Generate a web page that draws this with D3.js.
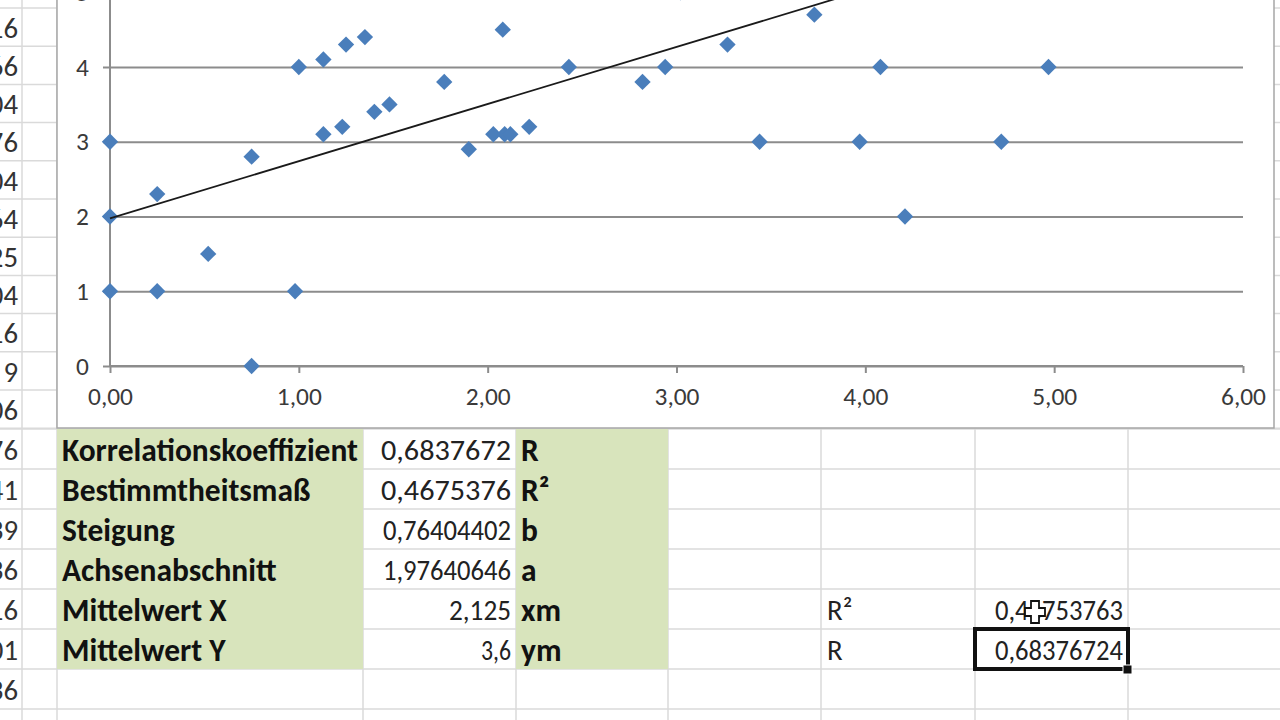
<!DOCTYPE html>
<html><head><meta charset="utf-8">
<script src="https://cdn.jsdelivr.net/npm/d3@7"></script>
<style>html,body{margin:0;padding:0;background:#fff;overflow:hidden}</style>
</head><body><svg id="c" width="1280" height="720"></svg>
<script>
// ---- data ----
const xValues = [0, 0, 0, 0.25, 0.25, 0.52, 0.75, 0.75, 0.98, 1.0, 1.13, 1.13, 1.23, 1.25, 1.35, 1.40, 1.48, 1.77, 1.90, 2.08, 2.03, 2.09, 2.12, 2.22, 2.43, 2.82, 2.94, 3.02, 3.27, 3.44, 3.73, 3.97, 4.08, 4.21, 4.72, 4.97];
const yValues = [3, 2, 1, 2.3, 1, 1.5, 2.8, 0, 1, 4, 4.1, 3.1, 3.2, 4.3, 4.4, 3.4, 3.5, 3.8, 2.9, 4.5, 3.1, 3.1, 3.1, 3.2, 4, 3.8, 4, 5.0, 4.3, 3, 4.7, 3, 4, 2, 3, 4];
const trendSlope = 0.76404402;
const trendIntercept = 1.97640646;
const xTicks = [0, 1, 2, 3, 4, 5, 6];
const yTicks = [0, 1, 2, 3, 4, 5, 6];
const statLabels = ["Korrelationskoeffizient", "Bestimmtheitsmaß", "Steigung", "Achsenabschnitt", "Mittelwert X", "Mittelwert Y"];
const statValues = ["0,6837672", "0,4675376", "0,76404402", "1,97640646", "2,125", "3,6"];
const statSymbols = ["R", "R²", "b", "a", "xm", "ym"];
const sideLabels = ["R²", "R"];
const sideValues = ["0,46753763", "0,68376724"];
const leftColTop = ["16", "66", "04", "76", "04", "64", "25", "04", "16", "9", "06"];
const leftColBottom = ["76", "41", "39", "36", "16", "01", "36"];

// ---- layout / style ----
const statValueWidths = [130, 130, 128, 128, 62, 30];
const sideValueWidths = [128, 128];

const svg = d3.select("#c");
const FAM = "Carlito, Lato, 'Open Sans', sans-serif";
const fmtTick = d => d3.format(".2f")(d).replace(".", ",");

function fitSize(text, weight, target) {
  const t = svg.append("text").attr("font-family", FAM).attr("font-weight", weight).attr("font-size", 100).text(text);
  const w = t.node().getComputedTextLength(); t.remove();
  return 100 * target / w;
}
const labelSize = fitSize("Korrelationskoeffizient", "bold", 296);
const valueSize = fitSize("0,6837672", "normal", 124);
const tickSize = fitSize("6,00", "normal", 45);

const gridCol = "#dadada";
const green = "#d8e4bc";

// ---- spreadsheet background ----
const cols = [22, 57, 363, 516, 668, 821, 975, 1128];
const topRows = d3.range(12).map(i => 8 + i * 38.2);
const botRows = d3.range(8).map(i => 429 + i * 40);
const bg = svg.append("g");
topRows.forEach(y => bg.append("line").attr("x1", 0).attr("x2", 1280).attr("y1", y).attr("y2", y).attr("stroke", gridCol).attr("stroke-width", 1.5));
botRows.forEach(y => bg.append("line").attr("x1", 0).attr("x2", 1280).attr("y1", y).attr("y2", y).attr("stroke", gridCol).attr("stroke-width", 1.5));
cols.forEach(x => bg.append("line").attr("x1", x).attr("x2", x).attr("y1", 0).attr("y2", 720).attr("stroke", gridCol).attr("stroke-width", 1.5));
bg.append("rect").attr("x", 57).attr("y", 429).attr("width", 363 - 57).attr("height", 240).attr("fill", green);
bg.append("rect").attr("x", 516).attr("y", 429).attr("width", 668 - 516).attr("height", 240).attr("fill", green);

// left column partial numbers
leftColTop.forEach((t, i) => bg.append("text").attr("x", 18).attr("y", topRows[i] + 19.5).attr("dy", "0.36em")
  .attr("text-anchor", "end").attr("font-family", FAM).attr("font-size", valueSize).attr("fill", "#333").text(t));
leftColBottom.forEach((t, i) => bg.append("text").attr("x", 18).attr("y", botRows[i] + 21).attr("dy", "0.36em")
  .attr("text-anchor", "end").attr("font-family", FAM).attr("font-size", valueSize).attr("fill", "#333").text(t));

// stats table
statLabels.forEach((t, i) => {
  const cy = botRows[i] + 21;
  bg.append("text").attr("x", 62).attr("y", cy).attr("dy", "0.36em").attr("font-family", FAM).attr("font-weight", "bold")
    .attr("font-size", labelSize).attr("fill", "#111").text(t);
  bg.append("text").attr("x", 511 - statValueWidths[i]).attr("y", cy).attr("dy", "0.36em").attr("font-family", FAM)
    .attr("font-size", valueSize).attr("fill", "#222")
    .attr("textLength", statValueWidths[i]).attr("lengthAdjust", "spacingAndGlyphs").text(statValues[i]);
  bg.append("text").attr("x", 521).attr("y", cy).attr("dy", "0.36em").attr("font-family", FAM).attr("font-weight", "bold")
    .attr("font-size", labelSize).attr("fill", "#111").text(statSymbols[i]);
});
sideLabels.forEach((t, i) => {
  const cy = botRows[4 + i] + 21;
  bg.append("text").attr("x", 827).attr("y", cy).attr("dy", "0.36em").attr("font-family", FAM)
    .attr("font-size", valueSize).attr("fill", "#222").text(t);
  bg.append("text").attr("x", 1123 - sideValueWidths[i]).attr("y", cy).attr("dy", "0.36em").attr("font-family", FAM)
    .attr("font-size", valueSize).attr("fill", "#222")
    .attr("textLength", sideValueWidths[i]).attr("lengthAdjust", "spacingAndGlyphs").text(sideValues[i]);
});
// selected cell
bg.append("rect").attr("x", 975).attr("y", 629).attr("width", 1128 - 975).attr("height", 40)
  .attr("fill", "none").attr("stroke", "#111").attr("stroke-width", 4);
bg.append("rect").attr("x", 1123).attr("y", 665).attr("width", 9).attr("height", 9).attr("fill", "#111").attr("stroke", "#fff").attr("stroke-width", 1);

// ---- chart ----
const chart = svg.append("g");
chart.append("rect").attr("x", 57).attr("y", -5).attr("width", 1274 - 57).attr("height", 428 + 5).attr("fill", "#fff")
  .attr("stroke", "#a6a6a6").attr("stroke-width", 1.5);

const x = d3.scaleLinear().domain([0, 6]).range([110, 1243]);
const y = d3.scaleLinear().domain([0, 6]).range([366, 366 - 6 * 74.75]);

const yAxis = d3.axisLeft(y).tickValues(yTicks).tickSize(-(x(6) - x(0))).tickFormat(d => d3.format("d")(d)).tickPadding(14);
const gy = chart.append("g").attr("transform", `translate(${x(0)},0)`).call(yAxis);
gy.select(".domain").remove();
gy.selectAll(".tick line").attr("stroke", "#8c8c8c").attr("stroke-width", 2).attr("x1", -7);
gy.selectAll(".tick text").attr("font-family", FAM).attr("font-size", tickSize).attr("fill", "#3a3a3a").attr("x", -21);

chart.append("line").attr("x1", x(0)).attr("x2", x(0)).attr("y1", y(6)).attr("y2", y(0)).attr("stroke", "#8c8c8c").attr("stroke-width", 2);

const xAxis = d3.axisBottom(x).tickValues(xTicks).tickSize(7).tickFormat(fmtTick).tickPadding(14);
const gx = chart.append("g").attr("transform", `translate(0,${y(0)})`).call(xAxis);
gx.select(".domain").attr("stroke", "#8c8c8c").attr("stroke-width", 2).attr("d", `M${x(0)},0H${x(6)}`);
gx.selectAll(".tick line").attr("stroke", "#8c8c8c").attr("stroke-width", 2);
gx.selectAll(".tick text").attr("font-family", FAM).attr("font-size", tickSize).attr("fill", "#3a3a3a");

svg.append("defs").append("clipPath").attr("id", "plot").append("rect")
  .attr("x", x(0) - 12).attr("y", y(6)).attr("width", x(6) - x(0) + 24).attr("height", y(0) - y(6) + 12);

const pts = xValues.map((v, i) => ({ x: v, y: yValues[i] }));
const diamond = d3.symbol().type(d3.symbolDiamond2).size(170);
chart.append("g").attr("clip-path", "url(#plot)").selectAll("path").data(pts).join("path")
  .attr("d", diamond).attr("transform", d => `translate(${x(d.x)},${y(d.y)})`).attr("fill", "#4a7ebb");

const tx0 = 0, tx1 = d3.max(xValues);
chart.append("line").attr("clip-path", "url(#plot)")
  .attr("x1", x(tx0)).attr("y1", y(trendIntercept + trendSlope * tx0))
  .attr("x2", x(tx1)).attr("y2", y(trendIntercept + trendSlope * tx1))
  .attr("stroke", "#1a1a1a").attr("stroke-width", 1.8);

// mouse cursor (white plus) over the R² value
const cx = 1035, cy = 612, a = 10, h = 4;
svg.append("path").attr("d",
  `M${cx-h},${cy-a-1}H${cx+h}V${cy-h}H${cx+a}V${cy+h}H${cx+h}V${cy+a+1}H${cx-h}V${cy+h}H${cx-a}V${cy-h}H${cx-h}Z`)
  .attr("fill", "#fff").attr("stroke", "#111").attr("stroke-width", 1.8);
</script></body></html>
